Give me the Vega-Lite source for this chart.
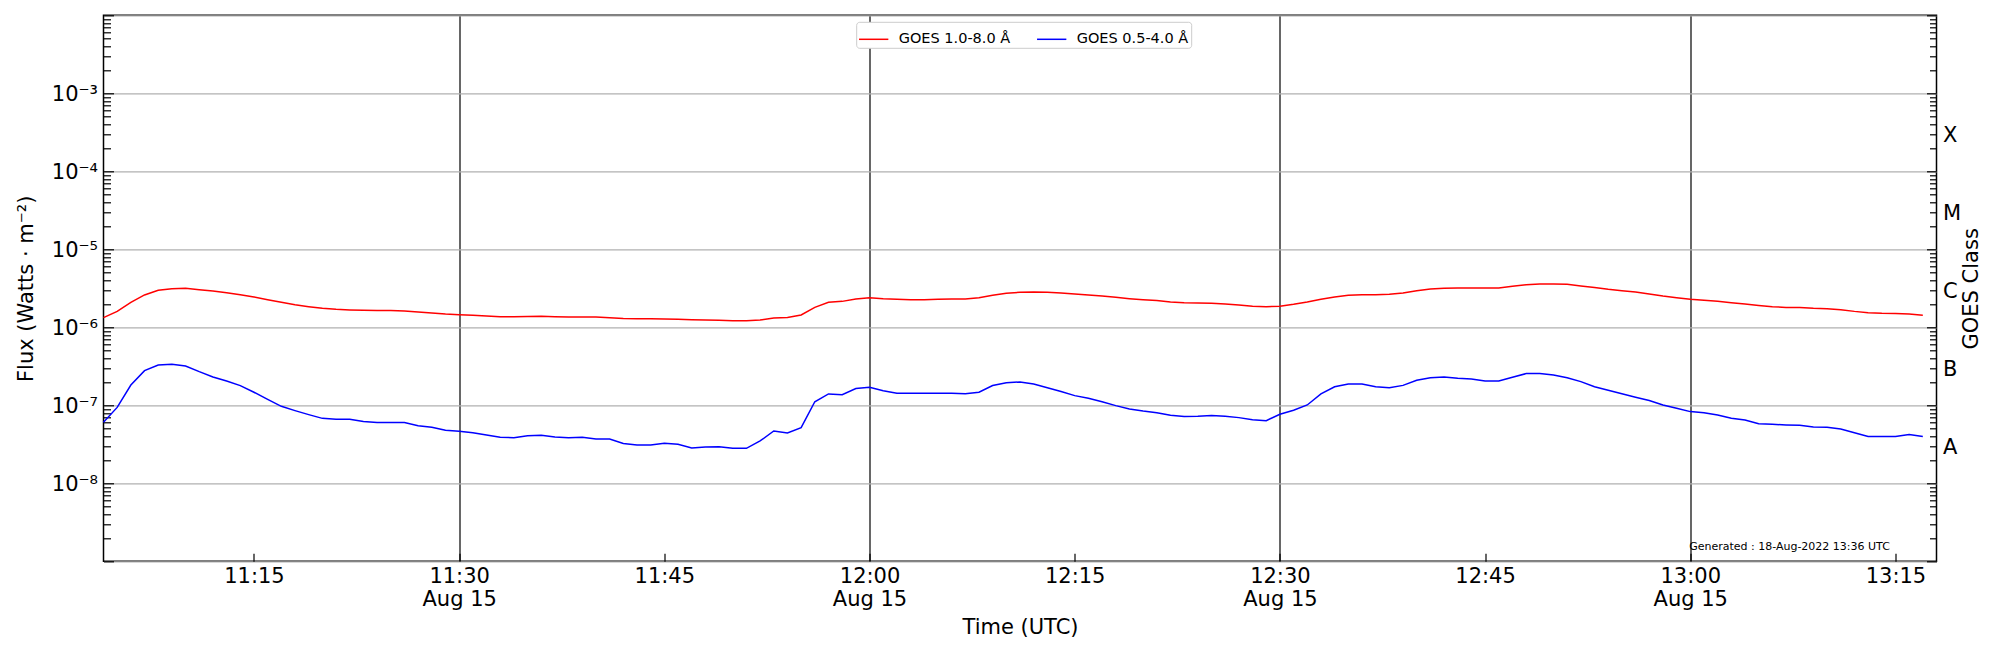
{
  "$schema": "https://vega.github.io/schema/vega-lite/v6.json",
  "width": 1833,
  "height": 546,
  "autosize": "none",
  "padding": {"left": 103.5, "top": 15.3, "right": 63.5, "bottom": 88.7},
  "background": "white",
  "config": {
    "font": "DejaVu Sans",
    "view": {"stroke": "black", "strokeWidth": 1.5},
    "axis": {
      "labelFont": "DejaVu Sans", "titleFont": "DejaVu Sans",
      "labelColor": "black", "titleColor": "black",
      "labelFontSize": 21, "titleFontSize": 21, "titleFontWeight": "normal",
      "domain": false, "tickColor": "black", "labelOverlap": false, "labelFlush": false
    }
  },
  "data": {
    "values": [
      {"time": "2022-08-15T11:04:00Z", "band": "GOES 1.0-8.0 Å", "flux": 1.33e-6},
      {"time": "2022-08-15T11:05:00Z", "band": "GOES 1.0-8.0 Å", "flux": 1.60e-6},
      {"time": "2022-08-15T11:06:00Z", "band": "GOES 1.0-8.0 Å", "flux": 2.09e-6},
      {"time": "2022-08-15T11:07:00Z", "band": "GOES 1.0-8.0 Å", "flux": 2.60e-6},
      {"time": "2022-08-15T11:08:00Z", "band": "GOES 1.0-8.0 Å", "flux": 2.98e-6},
      {"time": "2022-08-15T11:09:00Z", "band": "GOES 1.0-8.0 Å", "flux": 3.13e-6},
      {"time": "2022-08-15T11:10:00Z", "band": "GOES 1.0-8.0 Å", "flux": 3.16e-6},
      {"time": "2022-08-15T11:11:00Z", "band": "GOES 1.0-8.0 Å", "flux": 3.04e-6},
      {"time": "2022-08-15T11:12:00Z", "band": "GOES 1.0-8.0 Å", "flux": 2.92e-6},
      {"time": "2022-08-15T11:13:00Z", "band": "GOES 1.0-8.0 Å", "flux": 2.78e-6},
      {"time": "2022-08-15T11:14:00Z", "band": "GOES 1.0-8.0 Å", "flux": 2.62e-6},
      {"time": "2022-08-15T11:15:00Z", "band": "GOES 1.0-8.0 Å", "flux": 2.45e-6},
      {"time": "2022-08-15T11:16:00Z", "band": "GOES 1.0-8.0 Å", "flux": 2.26e-6},
      {"time": "2022-08-15T11:17:00Z", "band": "GOES 1.0-8.0 Å", "flux": 2.09e-6},
      {"time": "2022-08-15T11:18:00Z", "band": "GOES 1.0-8.0 Å", "flux": 1.95e-6},
      {"time": "2022-08-15T11:19:00Z", "band": "GOES 1.0-8.0 Å", "flux": 1.84e-6},
      {"time": "2022-08-15T11:20:00Z", "band": "GOES 1.0-8.0 Å", "flux": 1.75e-6},
      {"time": "2022-08-15T11:21:00Z", "band": "GOES 1.0-8.0 Å", "flux": 1.70e-6},
      {"time": "2022-08-15T11:22:00Z", "band": "GOES 1.0-8.0 Å", "flux": 1.67e-6},
      {"time": "2022-08-15T11:23:00Z", "band": "GOES 1.0-8.0 Å", "flux": 1.65e-6},
      {"time": "2022-08-15T11:24:00Z", "band": "GOES 1.0-8.0 Å", "flux": 1.64e-6},
      {"time": "2022-08-15T11:25:00Z", "band": "GOES 1.0-8.0 Å", "flux": 1.64e-6},
      {"time": "2022-08-15T11:26:00Z", "band": "GOES 1.0-8.0 Å", "flux": 1.62e-6},
      {"time": "2022-08-15T11:27:00Z", "band": "GOES 1.0-8.0 Å", "flux": 1.57e-6},
      {"time": "2022-08-15T11:28:00Z", "band": "GOES 1.0-8.0 Å", "flux": 1.53e-6},
      {"time": "2022-08-15T11:29:00Z", "band": "GOES 1.0-8.0 Å", "flux": 1.48e-6},
      {"time": "2022-08-15T11:30:00Z", "band": "GOES 1.0-8.0 Å", "flux": 1.45e-6},
      {"time": "2022-08-15T11:31:00Z", "band": "GOES 1.0-8.0 Å", "flux": 1.43e-6},
      {"time": "2022-08-15T11:32:00Z", "band": "GOES 1.0-8.0 Å", "flux": 1.40e-6},
      {"time": "2022-08-15T11:33:00Z", "band": "GOES 1.0-8.0 Å", "flux": 1.37e-6},
      {"time": "2022-08-15T11:34:00Z", "band": "GOES 1.0-8.0 Å", "flux": 1.37e-6},
      {"time": "2022-08-15T11:35:00Z", "band": "GOES 1.0-8.0 Å", "flux": 1.38e-6},
      {"time": "2022-08-15T11:36:00Z", "band": "GOES 1.0-8.0 Å", "flux": 1.39e-6},
      {"time": "2022-08-15T11:37:00Z", "band": "GOES 1.0-8.0 Å", "flux": 1.37e-6},
      {"time": "2022-08-15T11:38:00Z", "band": "GOES 1.0-8.0 Å", "flux": 1.36e-6},
      {"time": "2022-08-15T11:39:00Z", "band": "GOES 1.0-8.0 Å", "flux": 1.36e-6},
      {"time": "2022-08-15T11:40:00Z", "band": "GOES 1.0-8.0 Å", "flux": 1.36e-6},
      {"time": "2022-08-15T11:41:00Z", "band": "GOES 1.0-8.0 Å", "flux": 1.33e-6},
      {"time": "2022-08-15T11:42:00Z", "band": "GOES 1.0-8.0 Å", "flux": 1.30e-6},
      {"time": "2022-08-15T11:43:00Z", "band": "GOES 1.0-8.0 Å", "flux": 1.29e-6},
      {"time": "2022-08-15T11:44:00Z", "band": "GOES 1.0-8.0 Å", "flux": 1.29e-6},
      {"time": "2022-08-15T11:45:00Z", "band": "GOES 1.0-8.0 Å", "flux": 1.28e-6},
      {"time": "2022-08-15T11:46:00Z", "band": "GOES 1.0-8.0 Å", "flux": 1.27e-6},
      {"time": "2022-08-15T11:47:00Z", "band": "GOES 1.0-8.0 Å", "flux": 1.25e-6},
      {"time": "2022-08-15T11:48:00Z", "band": "GOES 1.0-8.0 Å", "flux": 1.24e-6},
      {"time": "2022-08-15T11:49:00Z", "band": "GOES 1.0-8.0 Å", "flux": 1.23e-6},
      {"time": "2022-08-15T11:50:00Z", "band": "GOES 1.0-8.0 Å", "flux": 1.21e-6},
      {"time": "2022-08-15T11:51:00Z", "band": "GOES 1.0-8.0 Å", "flux": 1.21e-6},
      {"time": "2022-08-15T11:52:00Z", "band": "GOES 1.0-8.0 Å", "flux": 1.24e-6},
      {"time": "2022-08-15T11:53:00Z", "band": "GOES 1.0-8.0 Å", "flux": 1.32e-6},
      {"time": "2022-08-15T11:54:00Z", "band": "GOES 1.0-8.0 Å", "flux": 1.34e-6},
      {"time": "2022-08-15T11:55:00Z", "band": "GOES 1.0-8.0 Å", "flux": 1.44e-6},
      {"time": "2022-08-15T11:56:00Z", "band": "GOES 1.0-8.0 Å", "flux": 1.80e-6},
      {"time": "2022-08-15T11:57:00Z", "band": "GOES 1.0-8.0 Å", "flux": 2.09e-6},
      {"time": "2022-08-15T11:58:00Z", "band": "GOES 1.0-8.0 Å", "flux": 2.15e-6},
      {"time": "2022-08-15T11:59:00Z", "band": "GOES 1.0-8.0 Å", "flux": 2.31e-6},
      {"time": "2022-08-15T12:00:00Z", "band": "GOES 1.0-8.0 Å", "flux": 2.40e-6},
      {"time": "2022-08-15T12:01:00Z", "band": "GOES 1.0-8.0 Å", "flux": 2.33e-6},
      {"time": "2022-08-15T12:02:00Z", "band": "GOES 1.0-8.0 Å", "flux": 2.29e-6},
      {"time": "2022-08-15T12:03:00Z", "band": "GOES 1.0-8.0 Å", "flux": 2.26e-6},
      {"time": "2022-08-15T12:04:00Z", "band": "GOES 1.0-8.0 Å", "flux": 2.26e-6},
      {"time": "2022-08-15T12:05:00Z", "band": "GOES 1.0-8.0 Å", "flux": 2.29e-6},
      {"time": "2022-08-15T12:06:00Z", "band": "GOES 1.0-8.0 Å", "flux": 2.31e-6},
      {"time": "2022-08-15T12:07:00Z", "band": "GOES 1.0-8.0 Å", "flux": 2.31e-6},
      {"time": "2022-08-15T12:08:00Z", "band": "GOES 1.0-8.0 Å", "flux": 2.40e-6},
      {"time": "2022-08-15T12:09:00Z", "band": "GOES 1.0-8.0 Å", "flux": 2.57e-6},
      {"time": "2022-08-15T12:10:00Z", "band": "GOES 1.0-8.0 Å", "flux": 2.73e-6},
      {"time": "2022-08-15T12:11:00Z", "band": "GOES 1.0-8.0 Å", "flux": 2.81e-6},
      {"time": "2022-08-15T12:12:00Z", "band": "GOES 1.0-8.0 Å", "flux": 2.84e-6},
      {"time": "2022-08-15T12:13:00Z", "band": "GOES 1.0-8.0 Å", "flux": 2.81e-6},
      {"time": "2022-08-15T12:14:00Z", "band": "GOES 1.0-8.0 Å", "flux": 2.76e-6},
      {"time": "2022-08-15T12:15:00Z", "band": "GOES 1.0-8.0 Å", "flux": 2.68e-6},
      {"time": "2022-08-15T12:16:00Z", "band": "GOES 1.0-8.0 Å", "flux": 2.60e-6},
      {"time": "2022-08-15T12:17:00Z", "band": "GOES 1.0-8.0 Å", "flux": 2.52e-6},
      {"time": "2022-08-15T12:18:00Z", "band": "GOES 1.0-8.0 Å", "flux": 2.42e-6},
      {"time": "2022-08-15T12:19:00Z", "band": "GOES 1.0-8.0 Å", "flux": 2.33e-6},
      {"time": "2022-08-15T12:20:00Z", "band": "GOES 1.0-8.0 Å", "flux": 2.26e-6},
      {"time": "2022-08-15T12:21:00Z", "band": "GOES 1.0-8.0 Å", "flux": 2.20e-6},
      {"time": "2022-08-15T12:22:00Z", "band": "GOES 1.0-8.0 Å", "flux": 2.11e-6},
      {"time": "2022-08-15T12:23:00Z", "band": "GOES 1.0-8.0 Å", "flux": 2.07e-6},
      {"time": "2022-08-15T12:24:00Z", "band": "GOES 1.0-8.0 Å", "flux": 2.05e-6},
      {"time": "2022-08-15T12:25:00Z", "band": "GOES 1.0-8.0 Å", "flux": 2.03e-6},
      {"time": "2022-08-15T12:26:00Z", "band": "GOES 1.0-8.0 Å", "flux": 1.99e-6},
      {"time": "2022-08-15T12:27:00Z", "band": "GOES 1.0-8.0 Å", "flux": 1.93e-6},
      {"time": "2022-08-15T12:28:00Z", "band": "GOES 1.0-8.0 Å", "flux": 1.86e-6},
      {"time": "2022-08-15T12:29:00Z", "band": "GOES 1.0-8.0 Å", "flux": 1.84e-6},
      {"time": "2022-08-15T12:30:00Z", "band": "GOES 1.0-8.0 Å", "flux": 1.86e-6},
      {"time": "2022-08-15T12:31:00Z", "band": "GOES 1.0-8.0 Å", "flux": 1.97e-6},
      {"time": "2022-08-15T12:32:00Z", "band": "GOES 1.0-8.0 Å", "flux": 2.11e-6},
      {"time": "2022-08-15T12:33:00Z", "band": "GOES 1.0-8.0 Å", "flux": 2.29e-6},
      {"time": "2022-08-15T12:34:00Z", "band": "GOES 1.0-8.0 Å", "flux": 2.45e-6},
      {"time": "2022-08-15T12:35:00Z", "band": "GOES 1.0-8.0 Å", "flux": 2.57e-6},
      {"time": "2022-08-15T12:36:00Z", "band": "GOES 1.0-8.0 Å", "flux": 2.62e-6},
      {"time": "2022-08-15T12:37:00Z", "band": "GOES 1.0-8.0 Å", "flux": 2.62e-6},
      {"time": "2022-08-15T12:38:00Z", "band": "GOES 1.0-8.0 Å", "flux": 2.65e-6},
      {"time": "2022-08-15T12:39:00Z", "band": "GOES 1.0-8.0 Å", "flux": 2.76e-6},
      {"time": "2022-08-15T12:40:00Z", "band": "GOES 1.0-8.0 Å", "flux": 2.95e-6},
      {"time": "2022-08-15T12:41:00Z", "band": "GOES 1.0-8.0 Å", "flux": 3.10e-6},
      {"time": "2022-08-15T12:42:00Z", "band": "GOES 1.0-8.0 Å", "flux": 3.16e-6},
      {"time": "2022-08-15T12:43:00Z", "band": "GOES 1.0-8.0 Å", "flux": 3.19e-6},
      {"time": "2022-08-15T12:44:00Z", "band": "GOES 1.0-8.0 Å", "flux": 3.19e-6},
      {"time": "2022-08-15T12:45:00Z", "band": "GOES 1.0-8.0 Å", "flux": 3.19e-6},
      {"time": "2022-08-15T12:46:00Z", "band": "GOES 1.0-8.0 Å", "flux": 3.19e-6},
      {"time": "2022-08-15T12:47:00Z", "band": "GOES 1.0-8.0 Å", "flux": 3.36e-6},
      {"time": "2022-08-15T12:48:00Z", "band": "GOES 1.0-8.0 Å", "flux": 3.52e-6},
      {"time": "2022-08-15T12:49:00Z", "band": "GOES 1.0-8.0 Å", "flux": 3.59e-6},
      {"time": "2022-08-15T12:50:00Z", "band": "GOES 1.0-8.0 Å", "flux": 3.59e-6},
      {"time": "2022-08-15T12:51:00Z", "band": "GOES 1.0-8.0 Å", "flux": 3.56e-6},
      {"time": "2022-08-15T12:52:00Z", "band": "GOES 1.0-8.0 Å", "flux": 3.39e-6},
      {"time": "2022-08-15T12:53:00Z", "band": "GOES 1.0-8.0 Å", "flux": 3.23e-6},
      {"time": "2022-08-15T12:54:00Z", "band": "GOES 1.0-8.0 Å", "flux": 3.07e-6},
      {"time": "2022-08-15T12:55:00Z", "band": "GOES 1.0-8.0 Å", "flux": 2.95e-6},
      {"time": "2022-08-15T12:56:00Z", "band": "GOES 1.0-8.0 Å", "flux": 2.84e-6},
      {"time": "2022-08-15T12:57:00Z", "band": "GOES 1.0-8.0 Å", "flux": 2.68e-6},
      {"time": "2022-08-15T12:58:00Z", "band": "GOES 1.0-8.0 Å", "flux": 2.52e-6},
      {"time": "2022-08-15T12:59:00Z", "band": "GOES 1.0-8.0 Å", "flux": 2.40e-6},
      {"time": "2022-08-15T13:00:00Z", "band": "GOES 1.0-8.0 Å", "flux": 2.29e-6},
      {"time": "2022-08-15T13:01:00Z", "band": "GOES 1.0-8.0 Å", "flux": 2.22e-6},
      {"time": "2022-08-15T13:02:00Z", "band": "GOES 1.0-8.0 Å", "flux": 2.15e-6},
      {"time": "2022-08-15T13:03:00Z", "band": "GOES 1.0-8.0 Å", "flux": 2.07e-6},
      {"time": "2022-08-15T13:04:00Z", "band": "GOES 1.0-8.0 Å", "flux": 1.99e-6},
      {"time": "2022-08-15T13:05:00Z", "band": "GOES 1.0-8.0 Å", "flux": 1.91e-6},
      {"time": "2022-08-15T13:06:00Z", "band": "GOES 1.0-8.0 Å", "flux": 1.84e-6},
      {"time": "2022-08-15T13:07:00Z", "band": "GOES 1.0-8.0 Å", "flux": 1.80e-6},
      {"time": "2022-08-15T13:08:00Z", "band": "GOES 1.0-8.0 Å", "flux": 1.79e-6},
      {"time": "2022-08-15T13:09:00Z", "band": "GOES 1.0-8.0 Å", "flux": 1.75e-6},
      {"time": "2022-08-15T13:10:00Z", "band": "GOES 1.0-8.0 Å", "flux": 1.73e-6},
      {"time": "2022-08-15T13:11:00Z", "band": "GOES 1.0-8.0 Å", "flux": 1.68e-6},
      {"time": "2022-08-15T13:12:00Z", "band": "GOES 1.0-8.0 Å", "flux": 1.60e-6},
      {"time": "2022-08-15T13:13:00Z", "band": "GOES 1.0-8.0 Å", "flux": 1.54e-6},
      {"time": "2022-08-15T13:14:00Z", "band": "GOES 1.0-8.0 Å", "flux": 1.51e-6},
      {"time": "2022-08-15T13:15:00Z", "band": "GOES 1.0-8.0 Å", "flux": 1.50e-6},
      {"time": "2022-08-15T13:16:00Z", "band": "GOES 1.0-8.0 Å", "flux": 1.48e-6},
      {"time": "2022-08-15T13:17:00Z", "band": "GOES 1.0-8.0 Å", "flux": 1.43e-6},
      {"time": "2022-08-15T11:04:00Z", "band": "GOES 0.5-4.0 Å", "flux": 6.05e-8},
      {"time": "2022-08-15T11:05:00Z", "band": "GOES 0.5-4.0 Å", "flux": 9.4e-8},
      {"time": "2022-08-15T11:06:00Z", "band": "GOES 0.5-4.0 Å", "flux": 1.82e-7},
      {"time": "2022-08-15T11:07:00Z", "band": "GOES 0.5-4.0 Å", "flux": 2.78e-7},
      {"time": "2022-08-15T11:08:00Z", "band": "GOES 0.5-4.0 Å", "flux": 3.29e-7},
      {"time": "2022-08-15T11:09:00Z", "band": "GOES 0.5-4.0 Å", "flux": 3.35e-7},
      {"time": "2022-08-15T11:10:00Z", "band": "GOES 0.5-4.0 Å", "flux": 3.19e-7},
      {"time": "2022-08-15T11:11:00Z", "band": "GOES 0.5-4.0 Å", "flux": 2.70e-7},
      {"time": "2022-08-15T11:12:00Z", "band": "GOES 0.5-4.0 Å", "flux": 2.31e-7},
      {"time": "2022-08-15T11:13:00Z", "band": "GOES 0.5-4.0 Å", "flux": 2.05e-7},
      {"time": "2022-08-15T11:14:00Z", "band": "GOES 0.5-4.0 Å", "flux": 1.79e-7},
      {"time": "2022-08-15T11:15:00Z", "band": "GOES 0.5-4.0 Å", "flux": 1.47e-7},
      {"time": "2022-08-15T11:16:00Z", "band": "GOES 0.5-4.0 Å", "flux": 1.19e-7},
      {"time": "2022-08-15T11:17:00Z", "band": "GOES 0.5-4.0 Å", "flux": 9.7e-8},
      {"time": "2022-08-15T11:18:00Z", "band": "GOES 0.5-4.0 Å", "flux": 8.55e-8},
      {"time": "2022-08-15T11:19:00Z", "band": "GOES 0.5-4.0 Å", "flux": 7.6e-8},
      {"time": "2022-08-15T11:20:00Z", "band": "GOES 0.5-4.0 Å", "flux": 6.8e-8},
      {"time": "2022-08-15T11:21:00Z", "band": "GOES 0.5-4.0 Å", "flux": 6.62e-8},
      {"time": "2022-08-15T11:22:00Z", "band": "GOES 0.5-4.0 Å", "flux": 6.62e-8},
      {"time": "2022-08-15T11:23:00Z", "band": "GOES 0.5-4.0 Å", "flux": 6.18e-8},
      {"time": "2022-08-15T11:24:00Z", "band": "GOES 0.5-4.0 Å", "flux": 6.0e-8},
      {"time": "2022-08-15T11:25:00Z", "band": "GOES 0.5-4.0 Å", "flux": 6.0e-8},
      {"time": "2022-08-15T11:26:00Z", "band": "GOES 0.5-4.0 Å", "flux": 6.0e-8},
      {"time": "2022-08-15T11:27:00Z", "band": "GOES 0.5-4.0 Å", "flux": 5.48e-8},
      {"time": "2022-08-15T11:28:00Z", "band": "GOES 0.5-4.0 Å", "flux": 5.22e-8},
      {"time": "2022-08-15T11:29:00Z", "band": "GOES 0.5-4.0 Å", "flux": 4.78e-8},
      {"time": "2022-08-15T11:30:00Z", "band": "GOES 0.5-4.0 Å", "flux": 4.64e-8},
      {"time": "2022-08-15T11:31:00Z", "band": "GOES 0.5-4.0 Å", "flux": 4.46e-8},
      {"time": "2022-08-15T11:32:00Z", "band": "GOES 0.5-4.0 Å", "flux": 4.17e-8},
      {"time": "2022-08-15T11:33:00Z", "band": "GOES 0.5-4.0 Å", "flux": 3.89e-8},
      {"time": "2022-08-15T11:34:00Z", "band": "GOES 0.5-4.0 Å", "flux": 3.85e-8},
      {"time": "2022-08-15T11:35:00Z", "band": "GOES 0.5-4.0 Å", "flux": 4.08e-8},
      {"time": "2022-08-15T11:36:00Z", "band": "GOES 0.5-4.0 Å", "flux": 4.12e-8},
      {"time": "2022-08-15T11:37:00Z", "band": "GOES 0.5-4.0 Å", "flux": 3.93e-8},
      {"time": "2022-08-15T11:38:00Z", "band": "GOES 0.5-4.0 Å", "flux": 3.85e-8},
      {"time": "2022-08-15T11:39:00Z", "band": "GOES 0.5-4.0 Å", "flux": 3.89e-8},
      {"time": "2022-08-15T11:40:00Z", "band": "GOES 0.5-4.0 Å", "flux": 3.70e-8},
      {"time": "2022-08-15T11:41:00Z", "band": "GOES 0.5-4.0 Å", "flux": 3.70e-8},
      {"time": "2022-08-15T11:42:00Z", "band": "GOES 0.5-4.0 Å", "flux": 3.23e-8},
      {"time": "2022-08-15T11:43:00Z", "band": "GOES 0.5-4.0 Å", "flux": 3.10e-8},
      {"time": "2022-08-15T11:44:00Z", "band": "GOES 0.5-4.0 Å", "flux": 3.10e-8},
      {"time": "2022-08-15T11:45:00Z", "band": "GOES 0.5-4.0 Å", "flux": 3.26e-8},
      {"time": "2022-08-15T11:46:00Z", "band": "GOES 0.5-4.0 Å", "flux": 3.16e-8},
      {"time": "2022-08-15T11:47:00Z", "band": "GOES 0.5-4.0 Å", "flux": 2.84e-8},
      {"time": "2022-08-15T11:48:00Z", "band": "GOES 0.5-4.0 Å", "flux": 2.92e-8},
      {"time": "2022-08-15T11:49:00Z", "band": "GOES 0.5-4.0 Å", "flux": 2.95e-8},
      {"time": "2022-08-15T11:50:00Z", "band": "GOES 0.5-4.0 Å", "flux": 2.81e-8},
      {"time": "2022-08-15T11:51:00Z", "band": "GOES 0.5-4.0 Å", "flux": 2.81e-8},
      {"time": "2022-08-15T11:52:00Z", "band": "GOES 0.5-4.0 Å", "flux": 3.49e-8},
      {"time": "2022-08-15T11:53:00Z", "band": "GOES 0.5-4.0 Å", "flux": 4.69e-8},
      {"time": "2022-08-15T11:54:00Z", "band": "GOES 0.5-4.0 Å", "flux": 4.42e-8},
      {"time": "2022-08-15T11:55:00Z", "band": "GOES 0.5-4.0 Å", "flux": 5.17e-8},
      {"time": "2022-08-15T11:56:00Z", "band": "GOES 0.5-4.0 Å", "flux": 1.11e-7},
      {"time": "2022-08-15T11:57:00Z", "band": "GOES 0.5-4.0 Å", "flux": 1.40e-7},
      {"time": "2022-08-15T11:58:00Z", "band": "GOES 0.5-4.0 Å", "flux": 1.37e-7},
      {"time": "2022-08-15T11:59:00Z", "band": "GOES 0.5-4.0 Å", "flux": 1.64e-7},
      {"time": "2022-08-15T12:00:00Z", "band": "GOES 0.5-4.0 Å", "flux": 1.70e-7},
      {"time": "2022-08-15T12:01:00Z", "band": "GOES 0.5-4.0 Å", "flux": 1.54e-7},
      {"time": "2022-08-15T12:02:00Z", "band": "GOES 0.5-4.0 Å", "flux": 1.43e-7},
      {"time": "2022-08-15T12:03:00Z", "band": "GOES 0.5-4.0 Å", "flux": 1.43e-7},
      {"time": "2022-08-15T12:04:00Z", "band": "GOES 0.5-4.0 Å", "flux": 1.43e-7},
      {"time": "2022-08-15T12:05:00Z", "band": "GOES 0.5-4.0 Å", "flux": 1.43e-7},
      {"time": "2022-08-15T12:06:00Z", "band": "GOES 0.5-4.0 Å", "flux": 1.43e-7},
      {"time": "2022-08-15T12:07:00Z", "band": "GOES 0.5-4.0 Å", "flux": 1.41e-7},
      {"time": "2022-08-15T12:08:00Z", "band": "GOES 0.5-4.0 Å", "flux": 1.47e-7},
      {"time": "2022-08-15T12:09:00Z", "band": "GOES 0.5-4.0 Å", "flux": 1.79e-7},
      {"time": "2022-08-15T12:10:00Z", "band": "GOES 0.5-4.0 Å", "flux": 1.95e-7},
      {"time": "2022-08-15T12:11:00Z", "band": "GOES 0.5-4.0 Å", "flux": 1.99e-7},
      {"time": "2022-08-15T12:12:00Z", "band": "GOES 0.5-4.0 Å", "flux": 1.88e-7},
      {"time": "2022-08-15T12:13:00Z", "band": "GOES 0.5-4.0 Å", "flux": 1.68e-7},
      {"time": "2022-08-15T12:14:00Z", "band": "GOES 0.5-4.0 Å", "flux": 1.50e-7},
      {"time": "2022-08-15T12:15:00Z", "band": "GOES 0.5-4.0 Å", "flux": 1.33e-7},
      {"time": "2022-08-15T12:16:00Z", "band": "GOES 0.5-4.0 Å", "flux": 1.23e-7},
      {"time": "2022-08-15T12:17:00Z", "band": "GOES 0.5-4.0 Å", "flux": 1.11e-7},
      {"time": "2022-08-15T12:18:00Z", "band": "GOES 0.5-4.0 Å", "flux": 9.9e-8},
      {"time": "2022-08-15T12:19:00Z", "band": "GOES 0.5-4.0 Å", "flux": 8.98e-8},
      {"time": "2022-08-15T12:20:00Z", "band": "GOES 0.5-4.0 Å", "flux": 8.46e-8},
      {"time": "2022-08-15T12:21:00Z", "band": "GOES 0.5-4.0 Å", "flux": 8.05e-8},
      {"time": "2022-08-15T12:22:00Z", "band": "GOES 0.5-4.0 Å", "flux": 7.44e-8},
      {"time": "2022-08-15T12:23:00Z", "band": "GOES 0.5-4.0 Å", "flux": 7.16e-8},
      {"time": "2022-08-15T12:24:00Z", "band": "GOES 0.5-4.0 Å", "flux": 7.23e-8},
      {"time": "2022-08-15T12:25:00Z", "band": "GOES 0.5-4.0 Å", "flux": 7.38e-8},
      {"time": "2022-08-15T12:26:00Z", "band": "GOES 0.5-4.0 Å", "flux": 7.23e-8},
      {"time": "2022-08-15T12:27:00Z", "band": "GOES 0.5-4.0 Å", "flux": 6.95e-8},
      {"time": "2022-08-15T12:28:00Z", "band": "GOES 0.5-4.0 Å", "flux": 6.55e-8},
      {"time": "2022-08-15T12:29:00Z", "band": "GOES 0.5-4.0 Å", "flux": 6.36e-8},
      {"time": "2022-08-15T12:30:00Z", "band": "GOES 0.5-4.0 Å", "flux": 7.67e-8},
      {"time": "2022-08-15T12:31:00Z", "band": "GOES 0.5-4.0 Å", "flux": 8.63e-8},
      {"time": "2022-08-15T12:32:00Z", "band": "GOES 0.5-4.0 Å", "flux": 1.01e-7},
      {"time": "2022-08-15T12:33:00Z", "band": "GOES 0.5-4.0 Å", "flux": 1.40e-7},
      {"time": "2022-08-15T12:34:00Z", "band": "GOES 0.5-4.0 Å", "flux": 1.73e-7},
      {"time": "2022-08-15T12:35:00Z", "band": "GOES 0.5-4.0 Å", "flux": 1.88e-7},
      {"time": "2022-08-15T12:36:00Z", "band": "GOES 0.5-4.0 Å", "flux": 1.88e-7},
      {"time": "2022-08-15T12:37:00Z", "band": "GOES 0.5-4.0 Å", "flux": 1.73e-7},
      {"time": "2022-08-15T12:38:00Z", "band": "GOES 0.5-4.0 Å", "flux": 1.68e-7},
      {"time": "2022-08-15T12:39:00Z", "band": "GOES 0.5-4.0 Å", "flux": 1.80e-7},
      {"time": "2022-08-15T12:40:00Z", "band": "GOES 0.5-4.0 Å", "flux": 2.09e-7},
      {"time": "2022-08-15T12:41:00Z", "band": "GOES 0.5-4.0 Å", "flux": 2.26e-7},
      {"time": "2022-08-15T12:42:00Z", "band": "GOES 0.5-4.0 Å", "flux": 2.31e-7},
      {"time": "2022-08-15T12:43:00Z", "band": "GOES 0.5-4.0 Å", "flux": 2.22e-7},
      {"time": "2022-08-15T12:44:00Z", "band": "GOES 0.5-4.0 Å", "flux": 2.18e-7},
      {"time": "2022-08-15T12:45:00Z", "band": "GOES 0.5-4.0 Å", "flux": 2.05e-7},
      {"time": "2022-08-15T12:46:00Z", "band": "GOES 0.5-4.0 Å", "flux": 2.05e-7},
      {"time": "2022-08-15T12:47:00Z", "band": "GOES 0.5-4.0 Å", "flux": 2.29e-7},
      {"time": "2022-08-15T12:48:00Z", "band": "GOES 0.5-4.0 Å", "flux": 2.55e-7},
      {"time": "2022-08-15T12:49:00Z", "band": "GOES 0.5-4.0 Å", "flux": 2.55e-7},
      {"time": "2022-08-15T12:50:00Z", "band": "GOES 0.5-4.0 Å", "flux": 2.45e-7},
      {"time": "2022-08-15T12:51:00Z", "band": "GOES 0.5-4.0 Å", "flux": 2.26e-7},
      {"time": "2022-08-15T12:52:00Z", "band": "GOES 0.5-4.0 Å", "flux": 2.01e-7},
      {"time": "2022-08-15T12:53:00Z", "band": "GOES 0.5-4.0 Å", "flux": 1.73e-7},
      {"time": "2022-08-15T12:54:00Z", "band": "GOES 0.5-4.0 Å", "flux": 1.56e-7},
      {"time": "2022-08-15T12:55:00Z", "band": "GOES 0.5-4.0 Å", "flux": 1.41e-7},
      {"time": "2022-08-15T12:56:00Z", "band": "GOES 0.5-4.0 Å", "flux": 1.27e-7},
      {"time": "2022-08-15T12:57:00Z", "band": "GOES 0.5-4.0 Å", "flux": 1.15e-7},
      {"time": "2022-08-15T12:58:00Z", "band": "GOES 0.5-4.0 Å", "flux": 1.01e-7},
      {"time": "2022-08-15T12:59:00Z", "band": "GOES 0.5-4.0 Å", "flux": 9.16e-8},
      {"time": "2022-08-15T13:00:00Z", "band": "GOES 0.5-4.0 Å", "flux": 8.30e-8},
      {"time": "2022-08-15T13:01:00Z", "band": "GOES 0.5-4.0 Å", "flux": 8.05e-8},
      {"time": "2022-08-15T13:02:00Z", "band": "GOES 0.5-4.0 Å", "flux": 7.52e-8},
      {"time": "2022-08-15T13:03:00Z", "band": "GOES 0.5-4.0 Å", "flux": 6.81e-8},
      {"time": "2022-08-15T13:04:00Z", "band": "GOES 0.5-4.0 Å", "flux": 6.49e-8},
      {"time": "2022-08-15T13:05:00Z", "band": "GOES 0.5-4.0 Å", "flux": 5.82e-8},
      {"time": "2022-08-15T13:06:00Z", "band": "GOES 0.5-4.0 Å", "flux": 5.70e-8},
      {"time": "2022-08-15T13:07:00Z", "band": "GOES 0.5-4.0 Å", "flux": 5.60e-8},
      {"time": "2022-08-15T13:08:00Z", "band": "GOES 0.5-4.0 Å", "flux": 5.54e-8},
      {"time": "2022-08-15T13:09:00Z", "band": "GOES 0.5-4.0 Å", "flux": 5.27e-8},
      {"time": "2022-08-15T13:10:00Z", "band": "GOES 0.5-4.0 Å", "flux": 5.22e-8},
      {"time": "2022-08-15T13:11:00Z", "band": "GOES 0.5-4.0 Å", "flux": 4.98e-8},
      {"time": "2022-08-15T13:12:00Z", "band": "GOES 0.5-4.0 Å", "flux": 4.46e-8},
      {"time": "2022-08-15T13:13:00Z", "band": "GOES 0.5-4.0 Å", "flux": 3.97e-8},
      {"time": "2022-08-15T13:14:00Z", "band": "GOES 0.5-4.0 Å", "flux": 3.97e-8},
      {"time": "2022-08-15T13:15:00Z", "band": "GOES 0.5-4.0 Å", "flux": 3.97e-8},
      {"time": "2022-08-15T13:16:00Z", "band": "GOES 0.5-4.0 Å", "flux": 4.21e-8},
      {"time": "2022-08-15T13:17:00Z", "band": "GOES 0.5-4.0 Å", "flux": 3.97e-8}
    ]
  },
  "layer": [
    {
      "mark": {"type": "line", "strokeWidth": 1.5},
      "encoding": {
        "x": {
          "field": "time", "type": "temporal",
          "scale": {"type": "utc", "domain": [1660561440000, 1660569480000]},
          "axis": {
            "title": "Time (UTC)", "titleX": 916.5, "titleY": 72, "titleAlign": "center", "titleBaseline": "alphabetic",
            "values": [1660562100000, 1660563000000, 1660563900000, 1660564800000, 1660565700000,
                       1660566600000, 1660567500000, 1660568400000, 1660569300000],
            "labelExpr": "utcminutes(datum.value) % 30 == 0 ? [utcFormat(datum.value, '%H:%M'), utcFormat(datum.value, '%b %d')] : utcFormat(datum.value, '%H:%M')",
            "labelBaseline": "top", "labelLineHeight": 23, "labelPadding": 11.8,
            "tickSize": -8, "tickWidth": 1.2,
            "grid": true, "gridColor": "black", "gridWidth": 1.2,
            "gridOpacity": {"condition": {"test": "utcminutes(datum.value) % 30 == 0", "value": 1}, "value": 0}
          }
        },
        "y": {
          "field": "flux", "type": "quantitative",
          "scale": {"type": "log", "domain": [1e-9, 1e-2], "nice": false},
          "axis": {
            "orient": "left",
            "values": [1e-9, 1e-8, 1e-7, 1e-6, 1e-5, 1e-4, 1e-3, 1e-2],
            "labelExpr": "datum.value == 1e-8 ? '10⁻⁸' : datum.value == 1e-7 ? '10⁻⁷' : datum.value == 1e-6 ? '10⁻⁶' : datum.value == 1e-5 ? '10⁻⁵' : datum.value == 1e-4 ? '10⁻⁴' : datum.value == 1e-3 ? '10⁻³' : ''",
            "labelAlign": "right", "labelBaseline": "middle", "labelPadding": 16, "labelOffset": 1,
            "tickSize": -10, "tickWidth": 1.2,
            "grid": true, "gridColor": "#b0b0b0", "gridWidth": 1.2,
            "title": "Flux (Watts · m⁻²)", "titleX": -77, "titleY": 273, "titleAngle": 270,
            "titleAlign": "center", "titleBaseline": "middle"
          }
        },
        "color": {
          "field": "band", "type": "nominal",
          "scale": {"domain": ["GOES 1.0-8.0 Å", "GOES 0.5-4.0 Å"], "range": ["#ff0000", "#0000ff"]},
          "legend": {
            "title": null, "orient": "none", "legendX": 752.7, "legendY": 6.5, "direction": "horizontal",
            "symbolType": "stroke", "symbolSize": 858, "symbolStrokeWidth": 1.5,
            "labelFont": "DejaVu Sans", "labelFontSize": 14.5, "labelColor": "black", "labelOffset": 9.5, "labelLimit": 0,
            "columnPadding": 22, "padding": 2,
            "fillColor": "white", "strokeColor": "#cccccc", "cornerRadius": 3
          }
        }
      }
    },
    {
      "data": {"values": [{"note": "Generated : 18-Aug-2022 13:36 UTC"}]},
      "mark": {"type": "text", "align": "left", "baseline": "middle", "fontSize": 11, "font": "DejaVu Sans", "color": "black"},
      "encoding": {
        "x": {"datum": 1660568395000, "type": "temporal", "axis": null},
        "y": {
          "datum": 1.52e-9, "type": "quantitative",
          "scale": {"type": "log", "domain": [1e-9, 1e-2], "nice": false},
          "axis": {
            "orient": "right",
            "values": [1e-9, 1e-8, 1e-7, 1e-6, 1e-5, 1e-4, 1e-3, 1e-2,
                       3.1622776601683795e-8, 3.1622776601683794e-7, 3.1622776601683795e-6,
                       3.1622776601683795e-5, 3.1622776601683794e-4],
            "labelExpr": "abs(log(datum.value)/LN10 + 7.5) < 0.000001 ? 'A' : abs(log(datum.value)/LN10 + 6.5) < 0.000001 ? 'B' : abs(log(datum.value)/LN10 + 5.5) < 0.000001 ? 'C' : abs(log(datum.value)/LN10 + 4.5) < 0.000001 ? 'M' : abs(log(datum.value)/LN10 + 3.5) < 0.000001 ? 'X' : ''",
            "labelAlign": "left", "labelBaseline": "middle", "labelPadding": 16, "labelOffset": 3,
            "tickSize": -10, "tickWidth": 1.2,
            "tickOpacity": {"condition": {"test": "abs(log(datum.value)/LN10 - round(log(datum.value)/LN10)) < 0.000001", "value": 1}, "value": 0},
            "grid": false,
            "title": "GOES Class", "titleX": 35.3, "titleY": 273, "titleAngle": 270,
            "titleAlign": "center", "titleBaseline": "middle"
          }
        },
        "text": {"field": "note", "type": "nominal"}
      }
    },
    {
      "data": {"values": [{"note": ""}]},
      "mark": {"type": "text", "text": ""},
      "encoding": {
        "y": {
          "datum": 1e-9, "type": "quantitative",
          "scale": {"type": "log", "domain": [1e-9, 1e-2], "nice": false},
          "axis": {
            "orient": "left",
            "values": [2e-9, 3e-9, 4e-9, 5e-9, 6e-9, 7e-9, 8e-9, 9e-9,
                       2e-8, 3e-8, 4e-8, 5e-8, 6e-8, 7e-8, 8e-8, 9e-8,
                       2e-7, 3e-7, 4e-7, 5e-7, 6e-7, 7e-7, 8e-7, 9e-7,
                       2e-6, 3e-6, 4e-6, 5e-6, 6e-6, 7e-6, 8e-6, 9e-6,
                       2e-5, 3e-5, 4e-5, 5e-5, 6e-5, 7e-5, 8e-5, 9e-5,
                       2e-4, 3e-4, 4e-4, 5e-4, 6e-4, 7e-4, 8e-4, 9e-4,
                       2e-3, 3e-3, 4e-3, 5e-3, 6e-3, 7e-3, 8e-3, 9e-3],
            "labels": false, "tickSize": -7, "tickWidth": 1.2, "grid": false, "title": null
          }
        }
      }
    },
    {
      "data": {"values": [{"note": ""}]},
      "mark": {"type": "text", "text": ""},
      "encoding": {
        "y": {
          "datum": 1e-9, "type": "quantitative",
          "scale": {"type": "log", "domain": [1e-9, 1e-2], "nice": false},
          "axis": {
            "orient": "right",
            "values": [2e-9, 3e-9, 4e-9, 5e-9, 6e-9, 7e-9, 8e-9, 9e-9,
                       2e-8, 3e-8, 4e-8, 5e-8, 6e-8, 7e-8, 8e-8, 9e-8,
                       2e-7, 3e-7, 4e-7, 5e-7, 6e-7, 7e-7, 8e-7, 9e-7,
                       2e-6, 3e-6, 4e-6, 5e-6, 6e-6, 7e-6, 8e-6, 9e-6,
                       2e-5, 3e-5, 4e-5, 5e-5, 6e-5, 7e-5, 8e-5, 9e-5,
                       2e-4, 3e-4, 4e-4, 5e-4, 6e-4, 7e-4, 8e-4, 9e-4,
                       2e-3, 3e-3, 4e-3, 5e-3, 6e-3, 7e-3, 8e-3, 9e-3],
            "labels": false, "tickSize": -7, "tickWidth": 1.2, "grid": false, "title": null
          }
        }
      }
    }
  ],
  "resolve": {"axis": {"x": "independent", "y": "independent"}}
}
